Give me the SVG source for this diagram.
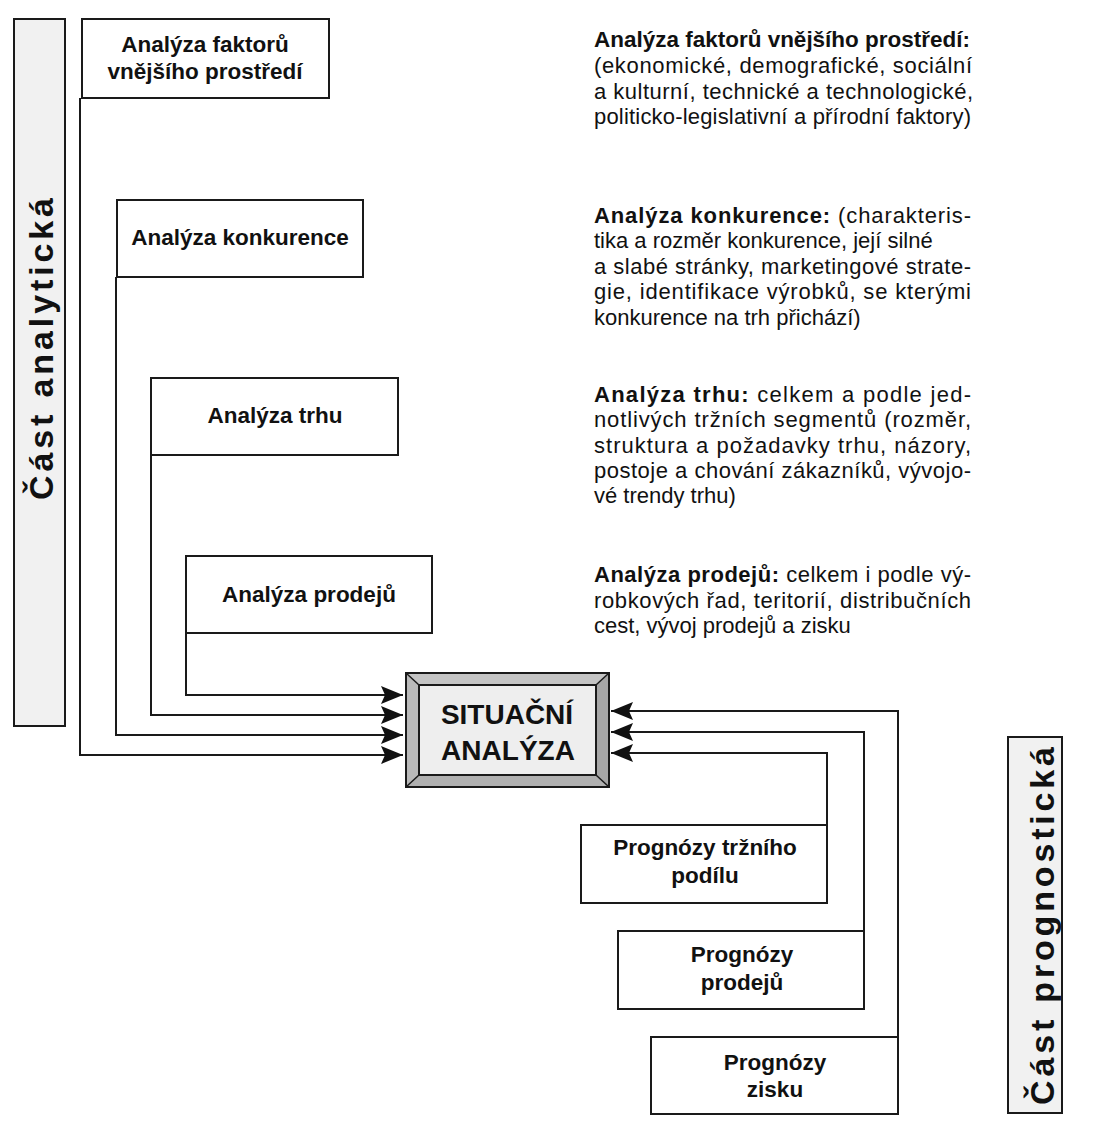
<svg xmlns="http://www.w3.org/2000/svg" width="1100" height="1141" viewBox="0 0 1100 1141">
<style>
  .box { fill: #ffffff; stroke: #1a1a1a; stroke-width: 2; }
  .bar { fill: #f1f1f1; stroke: #1a1a1a; stroke-width: 2; }
  .lbl { font-family: "Liberation Sans", Arial, sans-serif; font-weight: bold; font-size: 22.5px; fill: #111; text-anchor: middle; }
  .side { font-family: "Liberation Sans", Arial, sans-serif; font-weight: bold; font-size: 34px; fill: #111; text-anchor: middle; }
  .big { font-family: "Liberation Sans", Arial, sans-serif; font-weight: bold; font-size: 28px; fill: #111; text-anchor: middle; }
  .desc { font-family: "Liberation Sans", Arial, sans-serif; font-size: 22px; fill: #111; }
  .b { font-weight: bold; }
  .conn { fill: none; stroke: #1a1a1a; stroke-width: 2; }
</style>
<defs>
  <marker id="arr" viewBox="0 0 22 18" refX="22" refY="9" markerWidth="22" markerHeight="18" markerUnits="userSpaceOnUse" orient="auto">
    <path d="M0,0 L22,9 L0,18 L4,9 Z" fill="#111"/>
  </marker>
</defs>
<rect width="1100" height="1141" fill="#ffffff"/>

<g id="bar-analyticka">
  <rect class="bar" x="14" y="19" width="51" height="707"/>
  <text class="side" transform="translate(53,349) rotate(-90)" textLength="302" lengthAdjust="spacing">Část analytická</text>
</g>
<g id="bar-prognosticka">
  <rect class="bar" x="1008" y="737" width="54" height="376"/>
  <text class="side" transform="translate(1054,926) rotate(-90)" textLength="358" lengthAdjust="spacing">Část prognostická</text>
</g>

<g id="connectors">
  <path class="conn" d="M80,98 V755 H403" marker-end="url(#arr)"/>
  <path class="conn" d="M116,277 V735 H403" marker-end="url(#arr)"/>
  <path class="conn" d="M151,455 V715 H403" marker-end="url(#arr)"/>
  <path class="conn" d="M186,633 V695 H403" marker-end="url(#arr)"/>
  <path class="conn" d="M898,1037 V711 H611" marker-end="url(#arr)"/>
  <path class="conn" d="M864,931 V732 H611" marker-end="url(#arr)"/>
  <path class="conn" d="M827,825 V753 H611" marker-end="url(#arr)"/>
</g>

<g id="node-faktory">
  <rect class="box" x="82" y="19" width="247" height="79"/>
  <text class="lbl" x="205" y="52">Analýza faktorů</text>
  <text class="lbl" x="205" y="79">vnějšího prostředí</text>
</g>
<g id="node-konkurence">
  <rect class="box" x="117" y="200" width="246" height="77"/>
  <text class="lbl" x="240" y="245">Analýza konkurence</text>
</g>
<g id="node-trh">
  <rect class="box" x="151" y="378" width="247" height="77"/>
  <text class="lbl" x="275" y="423">Analýza trhu</text>
</g>
<g id="node-prodeje">
  <rect class="box" x="186" y="556" width="246" height="77"/>
  <text class="lbl" x="309" y="602">Analýza prodejů</text>
</g>

<g id="node-situacni">
  <rect x="406" y="673" width="203" height="114" fill="#b4b4b4" stroke="#1a1a1a" stroke-width="2"/>
  <polygon points="406,673 609,673 596,685 419,685" fill="#c4c4c4"/>
  <polygon points="406,673 419,685 419,775 406,787" fill="#bababa"/>
  <polygon points="609,673 609,787 596,775 596,685" fill="#a6a6a6"/>
  <polygon points="406,787 419,775 596,775 609,787" fill="#b0b0b0"/>
  <rect x="406" y="673" width="203" height="114" fill="none" stroke="#1a1a1a" stroke-width="2"/>
  <rect x="419" y="685" width="177" height="90" fill="#eeeeee" stroke="#1a1a1a" stroke-width="2"/>
  <line x1="406" y1="673" x2="419" y2="685" stroke="#1a1a1a" stroke-width="1.5"/>
  <line x1="609" y1="673" x2="596" y2="685" stroke="#1a1a1a" stroke-width="1.5"/>
  <line x1="406" y1="787" x2="419" y2="775" stroke="#1a1a1a" stroke-width="1.5"/>
  <line x1="609" y1="787" x2="596" y2="775" stroke="#1a1a1a" stroke-width="1.5"/>
  <text class="big" x="507" y="724">SITUAČNÍ</text>
  <text class="big" x="508" y="760">ANALÝZA</text>
</g>

<g id="node-prog-podil">
  <rect class="box" x="581" y="825" width="246" height="78"/>
  <text class="lbl" x="705" y="855">Prognózy tržního</text>
  <text class="lbl" x="705" y="883">podílu</text>
</g>
<g id="node-prog-prodeje">
  <rect class="box" x="618" y="931" width="246" height="78"/>
  <text class="lbl" x="742" y="962">Prognózy</text>
  <text class="lbl" x="742" y="990">prodejů</text>
</g>
<g id="node-prog-zisk">
  <rect class="box" x="651" y="1037" width="247" height="77"/>
  <text class="lbl" x="775" y="1070">Prognózy</text>
  <text class="lbl" x="775" y="1097">zisku</text>
</g>

<g id="text-faktory">
  <text class="desc b" x="594" y="47" textLength="376" lengthAdjust="spacingAndGlyphs">Analýza faktorů vnějšího prostředí:</text>
  <text class="desc" x="594" y="73" textLength="378" lengthAdjust="spacing">(ekonomické, demografické, sociální</text>
  <text class="desc" x="594" y="99" textLength="379" lengthAdjust="spacing">a kulturní, technické a technologické,</text>
  <text class="desc" x="594" y="124" textLength="377" lengthAdjust="spacing">politicko-legislativní a přírodní faktory)</text>
</g>
<g id="text-konkurence">
  <text class="desc" x="594" y="223" textLength="377" lengthAdjust="spacing"><tspan class="b">Analýza konkurence:</tspan> (charakteris-</text>
  <text class="desc" x="594" y="248">tika a rozměr konkurence, její silné</text>
  <text class="desc" x="594" y="274" textLength="377" lengthAdjust="spacing">a slabé stránky, marketingové strate-</text>
  <text class="desc" x="594" y="299" textLength="377" lengthAdjust="spacing">gie, identifikace výrobků, se kterými</text>
  <text class="desc" x="594" y="325">konkurence na trh přichází)</text>
</g>
<g id="text-trh">
  <text class="desc" x="594" y="402" textLength="377" lengthAdjust="spacing"><tspan class="b">Analýza trhu:</tspan> celkem a podle jed-</text>
  <text class="desc" x="594" y="427" textLength="377" lengthAdjust="spacing">notlivých tržních segmentů (rozměr,</text>
  <text class="desc" x="594" y="453" textLength="377" lengthAdjust="spacing">struktura a požadavky trhu, názory,</text>
  <text class="desc" x="594" y="478" textLength="377" lengthAdjust="spacing">postoje a chování zákazníků, vývojo-</text>
  <text class="desc" x="594" y="503">vé trendy trhu)</text>
</g>
<g id="text-prodeje">
  <text class="desc" x="594" y="582" textLength="377" lengthAdjust="spacing"><tspan class="b">Analýza prodejů:</tspan> celkem i podle vý-</text>
  <text class="desc" x="594" y="608" textLength="377" lengthAdjust="spacing">robkových řad, teritorií, distribučních</text>
  <text class="desc" x="594" y="633">cest, vývoj prodejů a zisku</text>
</g>
</svg>
